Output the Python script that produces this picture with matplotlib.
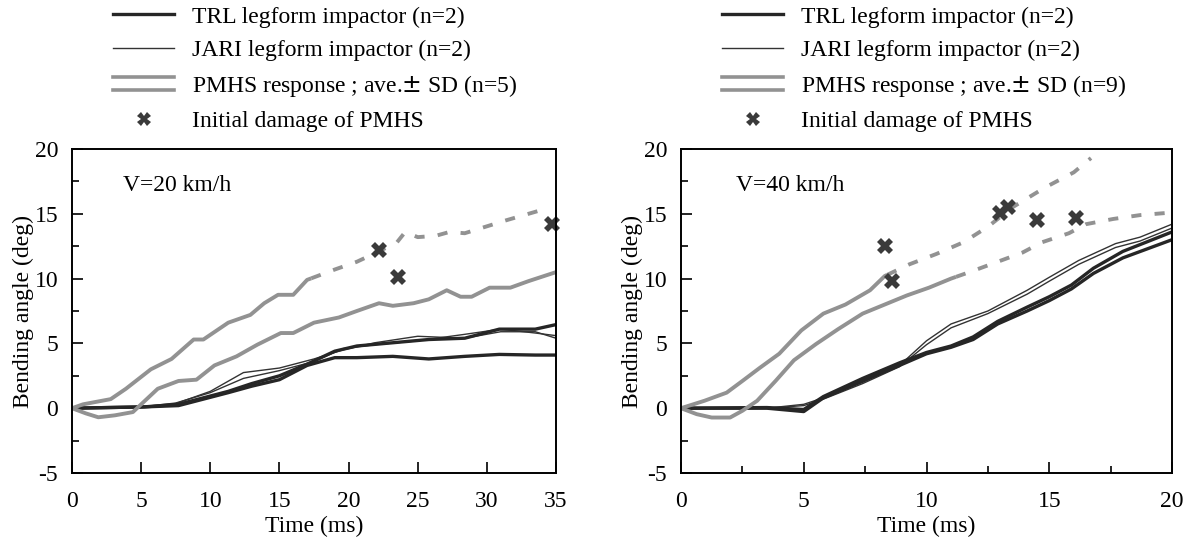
import matplotlib
matplotlib.use("Agg")
import matplotlib.pyplot as plt
from matplotlib.lines import Line2D
from matplotlib.legend_handler import HandlerBase
from matplotlib.ticker import MultipleLocator

plt.rcParams['font.family'] = ['Liberation Serif', 'DejaVu Serif']
plt.rcParams['axes.unicode_minus'] = False

# ---- V=20 km/h panel ----
v20_pmhs_up_t = [0, 0.8, 2.8, 3.9, 5.7, 7.2, 8.8, 9.5, 11.3, 12.9, 13.9, 14.9, 16.0, 17.0,
                 19.0, 20.6, 22.2, 23.5, 24.1, 25.0, 26.3, 27.3, 28.4, 29.6, 31.4, 34.3]
v20_pmhs_up_v = [0, 0.3, 0.7, 1.5, 3.0, 3.8, 5.3, 5.3, 6.6, 7.2, 8.1, 8.75, 8.75, 9.9,
                 10.7, 11.3, 12.1, 12.8, 13.6, 13.2, 13.3, 13.6, 13.5, 13.9, 14.5, 15.4]
v20_pmhs_up_dash_from = 17.3
v20_pmhs_lo_t = [0, 1, 1.9, 3.1, 4.4, 5.2, 6.2, 7.7, 9.0, 10.3, 11.9, 13.4, 15.1, 16.0, 17.5,
                 19.3, 20.6, 22.2, 23.2, 24.7, 25.8, 27.1, 28.1, 28.9, 30.2, 31.7, 33.0, 35.0]
v20_pmhs_lo_v = [0, -0.4, -0.7, -0.55, -0.3, 0.5, 1.5, 2.1, 2.2, 3.3, 4.0, 4.9, 5.8, 5.8, 6.6,
                 7.0, 7.5, 8.1, 7.9, 8.1, 8.4, 9.1, 8.6, 8.6, 9.3, 9.3, 9.8, 10.5]
v20_trl_t = [0, 5.2, 7.7, 9.5, 11.3, 13, 15, 17, 19, 20.6, 23.2, 25.8, 28.4, 30.9, 33.5, 35]
v20_trl_a = [0, 0.1, 0.2, 0.7, 1.2, 1.7, 2.2, 3.3, 3.9, 3.9, 4.0, 3.8, 4.0, 4.15, 4.1, 4.1]
v20_trl_b = [0, 0.1, 0.3, 0.8, 1.3, 1.9, 2.5, 3.4, 4.4, 4.8, 5.05, 5.3, 5.4, 6.1, 6.1, 6.45]
v20_jari_t = [0, 5, 7.5, 10, 12.4, 15, 17.5, 19.6, 21.9, 25, 28.4, 31, 33.5, 35]
v20_jari_a = [0, 0.05, 0.35, 1.3, 2.75, 3.1, 3.8, 4.5, 5.05, 5.55, 5.4, 5.9, 5.9, 5.4]
v20_jari_b = [0, 0.1, 0.4, 1.2, 2.3, 2.9, 3.6, 4.6, 4.9, 5.2, 5.7, 6.1, 5.8, 5.6]
v20_damage_t = [22.2, 23.6, 34.7]
v20_damage_v = [12.2, 10.15, 14.2]

# ---- V=40 km/h panel ----
v40_pmhs_up_t = [0, 0.95, 1.86, 2.5, 3.2, 4.0, 4.9, 5.8, 6.7, 7.7, 8.3, 9.3, 10.4, 11.5,
                 12.5, 13.5, 14.8, 16.0, 16.7]
v40_pmhs_up_v = [0, 0.57, 1.2, 2.1, 3.1, 4.2, 6.0, 7.3, 8.0, 9.1, 10.2, 11.1, 11.9, 12.8,
                 14.0, 15.5, 17.0, 18.2, 19.3]
v40_pmhs_up_dash_from = 8.4
v40_pmhs_lo_t = [0, 0.64, 1.25, 2.0, 2.5, 3.1, 3.85, 4.6, 5.5, 6.4, 7.4, 8.3, 9.2, 10.1, 11.0,
                 11.9, 12.9, 13.9, 14.7, 15.8, 16.5, 17.6, 18.7, 20]
v40_pmhs_lo_v = [0, -0.46, -0.72, -0.72, -0.2, 0.57, 2.1, 3.7, 4.95, 6.1, 7.3, 8.0, 8.7, 9.3,
                 10.0, 10.6, 11.3, 12.0, 12.8, 13.5, 14.2, 14.6, 14.9, 15.1]
v40_pmhs_lo_dash_from = 11.2
v40_trl_t = [0, 3.5, 5.0, 5.8, 7.4, 8.9, 10, 11, 11.9, 12.9, 14.1, 15, 15.9, 16.8, 18, 20]
v40_trl_a = [0, 0, -0.26, 0.8, 2.1, 3.3, 4.2, 4.7, 5.3, 6.5, 7.5, 8.3, 9.2, 10.4, 11.6, 13.0]
v40_trl_b = [0, 0.05, -0.1, 0.9, 2.3, 3.5, 4.3, 4.8, 5.5, 6.7, 7.8, 8.6, 9.5, 10.8, 12.1, 13.6]
v40_jari_t = [0, 3.5, 5.0, 5.8, 7.4, 8.9, 10, 11, 12.5, 14.1, 15, 16.2, 17.7, 18.7, 20]
v40_jari_a = [0, 0, 0.3, 0.8, 2.0, 3.3, 5.2, 6.5, 7.5, 9.1, 10.1, 11.4, 12.7, 13.2, 14.2]
v40_jari_b = [0, 0, 0.2, 0.7, 1.9, 3.2, 4.9, 6.2, 7.3, 8.8, 9.8, 11.1, 12.4, 12.9, 13.9]
v40_damage_t = [8.3, 8.6, 13.0, 13.3, 14.5, 16.1]
v40_damage_v = [12.5, 9.85, 15.1, 15.5, 14.5, 14.7]

TRL_C = '#262626'
JARI_C = '#333333'
PMHS_C = '#929292'
MARK_C = '#3a3a3a'
FS = 17


def split_at(t, v, t0):
    # solid part up to t0, dashed part from t0 on (shared point in between)
    solid_t, solid_v, dash_t, dash_v = [], [], [], []
    for i in range(len(t)):
        if t[i] <= t0:
            solid_t.append(t[i]); solid_v.append(v[i])
        else:
            if not dash_t:
                p = i - 1
                f = (t0 - t[p]) / (t[i] - t[p])
                vm = v[p] + f * (v[i] - v[p])
                solid_t.append(t0); solid_v.append(vm)
                dash_t.append(t0); dash_v.append(vm)
            dash_t.append(t[i]); dash_v.append(v[i])
    return solid_t, solid_v, dash_t, dash_v


def pmhs(ax, t, v, dash_from=None):
    if dash_from is None:
        ax.plot(t, v, color=PMHS_C, lw=2.8, solid_capstyle='butt')
        return
    st, sv, dt, dv = split_at(t, v, dash_from)
    ax.plot(st, sv, color=PMHS_C, lw=2.8, solid_capstyle='butt')
    ax.plot(dt, dv, color=PMHS_C, lw=2.8, linestyle=(0, (2.6, 3.4)), dash_capstyle='butt')


class DoubleLineHandler(HandlerBase):
    def create_artists(self, legend, orig_handle, xdescent, ydescent, width, height,
                       fontsize, trans):
        x0, x1 = -xdescent, width - xdescent
        yc = height / 2 - ydescent
        off = height * 0.4
        a = Line2D([x0, x1], [yc + off, yc + off], color=PMHS_C, lw=2.6, transform=trans)
        b = Line2D([x0, x1], [yc - off, yc - off], color=PMHS_C, lw=2.6, transform=trans)
        return [a, b]


class PMHSKey:
    pass


def setup(ax, xmax, xmajor, xminor, label):
    ax.set_xlim(0, xmax)
    ax.set_ylim(-5, 20)
    ax.xaxis.set_major_locator(MultipleLocator(xmajor))
    if xminor:
        ax.xaxis.set_minor_locator(MultipleLocator(xminor))
    ax.yaxis.set_major_locator(MultipleLocator(5))
    ax.yaxis.set_minor_locator(MultipleLocator(2.5))
    ax.tick_params(which='both', direction='in', top=False, right=False,
                   labelsize=FS, width=1.2)
    ax.tick_params(which='major', length=8)
    ax.tick_params(which='minor', length=5)
    ax.tick_params(axis='x', pad=13)
    ax.tick_params(axis='y', pad=10)
    for s in ax.spines.values():
        s.set_linewidth(1.4)
    ax.set_xlabel('Time (ms)', fontsize=FS, labelpad=3)
    ax.set_ylabel('Bending angle (deg)', fontsize=FS, labelpad=0)
    ax.text(0.105 if xmax == 35 else 0.112, 0.888, label, transform=ax.transAxes,
            fontsize=FS, va='center', ha='left')


def draw(ax, d):
    ax.plot(d['jari_t'], d['jari_a'], color=JARI_C, lw=1.0)
    ax.plot(d['jari_t'], d['jari_b'], color=JARI_C, lw=1.0)
    ax.plot(d['trl_t'], d['trl_a'], color=TRL_C, lw=2.4)
    ax.plot(d['trl_t'], d['trl_b'], color=TRL_C, lw=2.4)
    pmhs(ax, d['up_t'], d['up_v'], d['up_dash'])
    pmhs(ax, d['lo_t'], d['lo_v'], d['lo_dash'])
    ax.plot(d['dmg_t'], d['dmg_v'], linestyle='none', marker='X', markersize=11,
            color=MARK_C, markeredgewidth=0, clip_on=False)


def add_legend(fig, x_px, n):
    handles = [Line2D([], [], color=TRL_C, lw=2.4),
               Line2D([], [], color=JARI_C, lw=1.0),
               PMHSKey(),
               Line2D([], [], linestyle='none', marker='X', markersize=10,
                      color=MARK_C, markeredgewidth=0)]
    labels = ['TRL legform impactor (n=2)', 'JARI legform impactor (n=2)',
              'PMHS response ; ave.$\\pm$ SD (n=%d)' % n, 'Initial damage of PMHS']
    fig.legend(handles, labels, loc='upper left', bbox_to_anchor=(x_px / 1186, 1 - 6 / 541),
               frameon=False, fontsize=FS, handlelength=2.6, handletextpad=0.75,
               labelspacing=0.5, borderpad=0, borderaxespad=0,
               handler_map={PMHSKey: DoubleLineHandler()})


fig = plt.figure(figsize=(11.86, 5.41), dpi=100)
ax1 = fig.add_axes([72 / 1186, 68 / 541, 484 / 1186, 324 / 541])
ax2 = fig.add_axes([681 / 1186, 68 / 541, 491 / 1186, 324 / 541])

draw(ax1, dict(jari_t=v20_jari_t, jari_a=v20_jari_a, jari_b=v20_jari_b,
               trl_t=v20_trl_t, trl_a=v20_trl_a, trl_b=v20_trl_b,
               up_t=v20_pmhs_up_t, up_v=v20_pmhs_up_v, up_dash=v20_pmhs_up_dash_from,
               lo_t=v20_pmhs_lo_t, lo_v=v20_pmhs_lo_v, lo_dash=None,
               dmg_t=v20_damage_t, dmg_v=v20_damage_v))
draw(ax2, dict(jari_t=v40_jari_t, jari_a=v40_jari_a, jari_b=v40_jari_b,
               trl_t=v40_trl_t, trl_a=v40_trl_a, trl_b=v40_trl_b,
               up_t=v40_pmhs_up_t, up_v=v40_pmhs_up_v, up_dash=v40_pmhs_up_dash_from,
               lo_t=v40_pmhs_lo_t, lo_v=v40_pmhs_lo_v, lo_dash=v40_pmhs_lo_dash_from,
               dmg_t=v40_damage_t, dmg_v=v40_damage_v))

setup(ax1, 35, 5, None, 'V=20 km/h')
setup(ax2, 20, 5, 2.5, 'V=40 km/h')

add_legend(fig, 113, 5)
add_legend(fig, 722, 9)

fig.savefig('out.png', dpi=100, facecolor='white')
